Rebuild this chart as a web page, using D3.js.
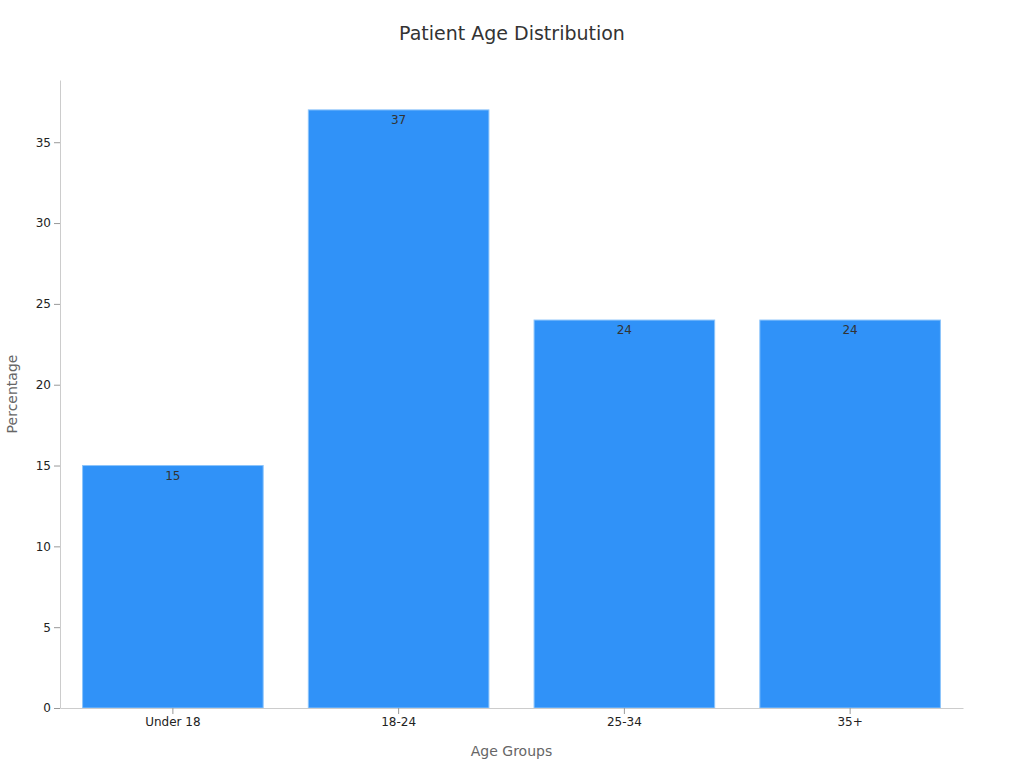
<!DOCTYPE html>
<html>
<head>
<meta charset="utf-8">
<script src="https://cdn.jsdelivr.net/npm/d3@7"></script>
<style>
  body { margin: 0; background: #fff; font-family: "DejaVu Sans", sans-serif; }
</style>
</head>
<body>
<script>
const categories = ["Under 18", "18-24", "25-34", "35+"];
const values = [15, 37, 24, 24];

const width = 1024, height = 768;
const margin = {top: 80, right: 61, bottom: 60, left: 60};

const svg = d3.select("body").append("svg")
    .attr("width", width)
    .attr("height", height);

const x = d3.scaleBand()
    .domain(categories)
    .range([margin.left, width - margin.right])
    .paddingInner(0.2)
    .paddingOuter(0.1);

const y = d3.scaleLinear()
    .domain([0, d3.max(values) * 1.05])
    .range([height - margin.bottom, margin.top]);

// title
svg.append("text")
    .attr("x", width / 2).attr("y", 40)
    .attr("text-anchor", "middle")
    .attr("font-size", 19).attr("fill", "#333")
    .text("Patient Age Distribution");

// bars
svg.append("g").selectAll("rect")
    .data(values)
    .join("rect")
    .attr("x", (d, i) => x(categories[i]))
    .attr("y", d => y(d))
    .attr("width", x.bandwidth())
    .attr("height", d => y(0) - y(d))
    .attr("fill", "#3092f8")
    .attr("stroke", "#8cc4fb")
    .attr("stroke-width", 1);

svg.append("g").selectAll("text")
    .data(values)
    .join("text")
    .attr("x", (d, i) => x(categories[i]) + x.bandwidth() / 2)
    .attr("y", d => y(d) + 14)
    .attr("text-anchor", "middle")
    .attr("font-size", 12).attr("fill", "#333")
    .text(d => d);

// axes
const xAxis = svg.append("g")
    .attr("transform", `translate(0,${height - margin.bottom})`)
    .call(d3.axisBottom(x).tickSizeOuter(0));
const yAxis = svg.append("g")
    .attr("transform", `translate(${margin.left},0)`)
    .call(d3.axisLeft(y).tickValues([0, 5, 10, 15, 20, 25, 30, 35]).tickSizeOuter(0));

[xAxis, yAxis].forEach(g => {
    g.select(".domain").attr("stroke", "#ccc");
    g.selectAll(".tick line").attr("stroke", "#999");
    g.selectAll(".tick text").attr("fill", "#222").attr("font-size", 12)
        .attr("font-family", "DejaVu Sans, sans-serif");
});

svg.append("text")
    .attr("x", (margin.left + width - margin.right) / 2).attr("y", 756)
    .attr("text-anchor", "middle")
    .attr("font-size", 14).attr("fill", "#666")
    .text("Age Groups");

svg.append("text")
    .attr("transform", `translate(17,${(margin.top + height - margin.bottom) / 2}) rotate(-90)`)
    .attr("text-anchor", "middle")
    .attr("font-size", 14).attr("fill", "#666")
    .text("Percentage");
</script>
</body>
</html>
